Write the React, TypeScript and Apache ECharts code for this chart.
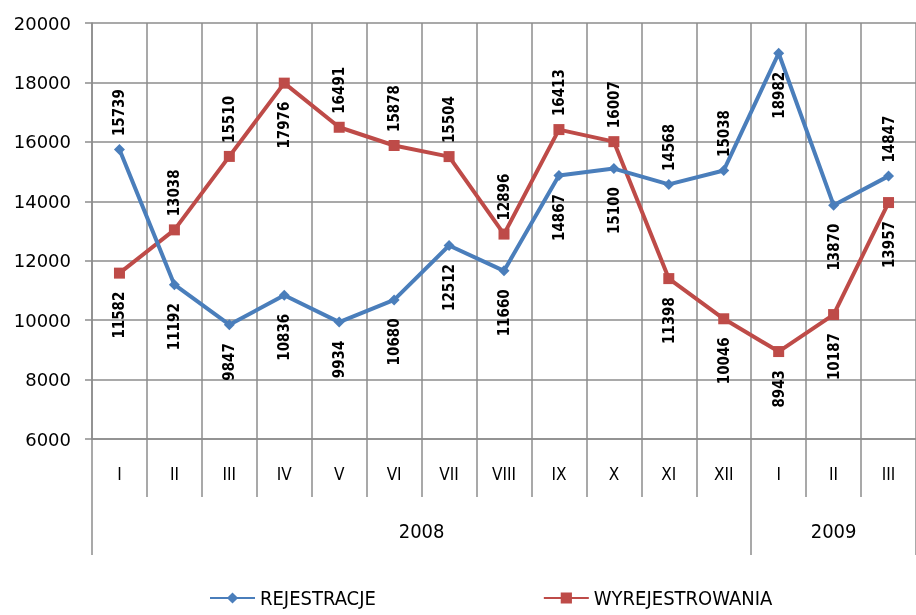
import React, { useEffect, useRef } from "react";
import * as echarts from "echarts";

const months = ["I", "II", "III", "IV", "V", "VI", "VII", "VIII", "IX", "X", "XI", "XII", "I", "II", "III"];
const years = ["2008", "2009"];
const yearSpans = [12, 3];
const rejestracje = [15739, 11192, 9847, 10836, 9934, 10680, 12512, 11660, 14867, 15100, 14568, 15038, 18982, 13870, 14847];
const wyrejestrowania = [11582, 13038, 15510, 17976, 16491, 15878, 15504, 12896, 16413, 16007, 11398, 10046, 8943, 10187, 13957];
const regLabelSide = ["top", "bottom", "bottom", "bottom", "bottom", "bottom", "bottom", "bottom", "bottom", "bottom", "top", "top", "bottom", "bottom", "top"];
const wyrLabelSide = ["bottom", "top", "top", "bottom", "top", "top", "top", "top", "top", "top", "bottom", "bottom", "bottom", "bottom", "bottom"];

const FONT = '"DejaVu Sans Condensed", "Liberation Sans Narrow", "Noto Sans", sans-serif';
const Y_FONT = '"DejaVu Sans", "Noto Sans", sans-serif';
const GRID_COLOR = "#8c8c8c";

function labelFor(side: string) {
  const top = side === "top";
  return {
    show: true,
    position: top ? "top" : "bottom",
    rotate: 90,
    align: top ? "left" : "right",
    verticalAlign: "middle",
    distance: top ? 8 : 13,
    fontFamily: FONT,
    fontWeight: "bold",
    fontSize: 15,
    color: "#000",
  };
}

export default function App() {
  const ref = useRef<HTMLDivElement>(null);
  useEffect(() => {
    if (!ref.current) return;
    const chart = echarts.init(ref.current, null, { renderer: "svg" });
    const boundaries: number[] = [0];
    const centers: number[] = [];
    let acc = 0;
    yearSpans.forEach((s) => {
      centers.push(acc + s / 2);
      acc += s;
      boundaries.push(acc);
    });
    chart.setOption({
      animation: false,
      grid: { left: 92, top: 23, width: 829, height: 416 },
      legend: {
        left: 204,
        top: 583,
        itemWidth: 45,
        itemHeight: 14,
        itemGap: 167,
        textStyle: { fontFamily: FONT, fontSize: 20, color: "#000" },
        data: ["REJESTRACJE", "WYREJESTROWANIA"],
      },
      xAxis: [
        {
          type: "category",
          data: months,
          position: "bottom",
          axisLine: { show: true, lineStyle: { color: GRID_COLOR, width: 1.5 } },
          axisTick: { show: true, interval: 0, length: 58, lineStyle: { color: GRID_COLOR, width: 1.5 } },
          axisLabel: { interval: 0, margin: 26, fontFamily: FONT, fontSize: 17, color: "#000" },
          splitLine: { show: true, interval: 0, lineStyle: { color: GRID_COLOR, width: 1.5 } },
        },
        {
          type: "value",
          min: 0,
          max: months.length,
          position: "bottom",
          offset: 58,
          axisLine: { show: false },
          axisTick: { show: true, customValues: boundaries, length: 58, lineStyle: { color: GRID_COLOR, width: 1.5 } },
          axisLabel: {
            show: true,
            customValues: centers,
            margin: 24,
            fontFamily: FONT,
            fontSize: 20,
            color: "#000",
            formatter: (v: number) => {
              const i = centers.findIndex((c) => Math.abs(c - v) < 1e-6);
              return i >= 0 ? years[i] : "";
            },
          },
          splitLine: { show: false },
        },
      ],
      yAxis: {
        type: "value",
        min: 6000,
        max: 20000,
        interval: 2000,
        axisLine: { show: true, lineStyle: { color: GRID_COLOR, width: 1.5 } },
        axisTick: { show: true, length: 7, lineStyle: { color: GRID_COLOR, width: 1.5 } },
        axisLabel: { margin: 21, fontFamily: Y_FONT, fontSize: 18, color: "#000", formatter: (v: number) => String(v) },
        splitLine: { show: true, lineStyle: { color: GRID_COLOR, width: 1.5 } },
      },
      series: [
        {
          name: "REJESTRACJE",
          type: "line",
          xAxisIndex: 0,
          data: rejestracje.map((v, i) => ({ value: v, label: labelFor(regLabelSide[i]) })),
          symbol: "diamond",
          symbolSize: 11,
          lineStyle: { width: 4, color: "#4A7EBB" },
          itemStyle: { color: "#4A7EBB" },
          z: 3,
        },
        {
          name: "WYREJESTROWANIA",
          type: "line",
          xAxisIndex: 0,
          data: wyrejestrowania.map((v, i) => ({ value: v, label: labelFor(wyrLabelSide[i]) })),
          symbol: "rect",
          symbolSize: 11,
          lineStyle: { width: 4, color: "#BE4B48" },
          itemStyle: { color: "#BE4B48" },
          z: 2,
        },
      ],
    });
    return () => chart.dispose();
  }, []);
  return <div ref={ref} style={{ position: "fixed", left: 0, top: 0, width: 916, height: 615 }} />;
}
